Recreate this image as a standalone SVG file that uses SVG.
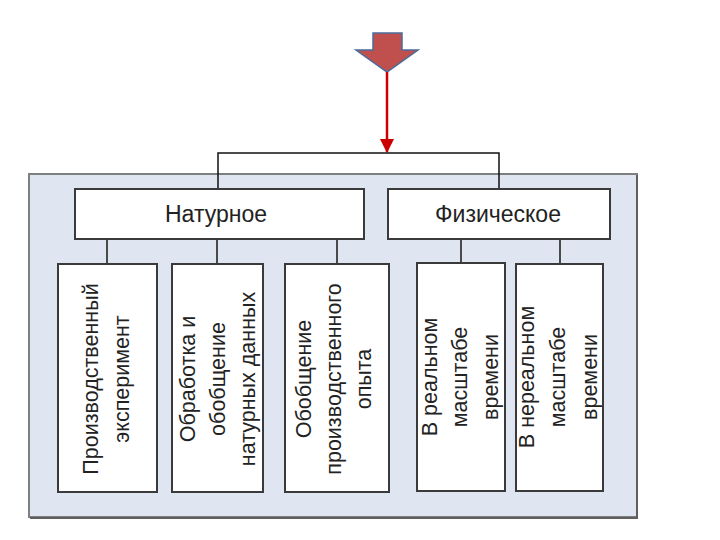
<svg xmlns="http://www.w3.org/2000/svg" width="720" height="540" viewBox="0 0 720 540">
<style>
.box{fill:#ffffff;stroke:#3a3a3a;stroke-width:2}
.hl{font-family:"Liberation Sans",Arial,sans-serif;font-size:23px;fill:#222;text-anchor:middle}
.vl{font-family:"Liberation Sans",Arial,sans-serif;font-size:21.5px;fill:#222;text-anchor:middle}
.conn{stroke:#111;stroke-width:1.5;fill:none}
.conn2{stroke:#4a4a4a;stroke-width:2;fill:none}
</style>
<defs>
<marker id="redhead" markerWidth="14" markerHeight="14" refX="13" refY="7" orient="auto" markerUnits="userSpaceOnUse" viewBox="0 0 14 14">
<path d="M0,0 L14,7 L0,14 Z" fill="#cc0000"/>
</marker>
</defs>
<rect width="720" height="540" fill="#ffffff"/>
<g id="panel">
<rect x="29" y="174" width="608" height="343" fill="#dfe6f1" stroke="#7f7f7f" stroke-width="2"/>
<path d="M637,175 L637,518 L30,518" fill="none" stroke="#5f5f5f" stroke-width="2"/>
</g>
<g id="block-arrow">
<path d="M373,33 L402,33 L402,50 L418,50 L387,72 L356,50 L373,50 Z" fill="#c0504d" stroke="#4a6b9a" stroke-width="1.5"/>
</g>
<g id="connectors">
<line x1="387" y1="72" x2="387" y2="152" stroke="#cc0000" stroke-width="2.5" marker-end="url(#redhead)"/>
<path class="conn" d="M218,189 L218,153 L499,153 L499,189"/>
<line class="conn2" x1="107" y1="239" x2="107" y2="264"/>
<line class="conn2" x1="217" y1="239" x2="217" y2="264"/>
<line class="conn2" x1="337" y1="239" x2="337" y2="264"/>
<line class="conn2" x1="461" y1="239" x2="461" y2="263"/>
<line class="conn2" x1="560" y1="239" x2="560" y2="264"/>
</g>
<g id="natural">
<rect class="box" x="75" y="189" width="289" height="50"/>
<text class="hl" x="216" y="222">Натурное</text>
</g>
<g id="physical">
<rect class="box" x="388" y="189" width="222" height="50"/>
<text class="hl" x="498" y="222">Физическое</text>
</g>
<g id="n1">
<rect class="box" x="58" y="264" width="99" height="228"/>
<text class="vl" transform="translate(98,379) rotate(-90)">Производственный</text>
<text class="vl" transform="translate(129,379) rotate(-90)">эксперимент</text>
</g>
<g id="n2">
<rect class="box" x="172" y="264" width="91" height="228"/>
<text class="vl" transform="translate(195,379) rotate(-90)">Обработка и</text>
<text class="vl" transform="translate(225,379) rotate(-90)">обобщение</text>
<text class="vl" transform="translate(255,379) rotate(-90)">натурных данных</text>
</g>
<g id="n3">
<rect class="box" x="285" y="264" width="104" height="228"/>
<text class="vl" transform="translate(311,379) rotate(-90)">Обобщение</text>
<text class="vl" transform="translate(341,379) rotate(-90)">производственного</text>
<text class="vl" transform="translate(371,379) rotate(-90)">опыта</text>
</g>
<g id="p1">
<rect class="box" x="417" y="263" width="88" height="228"/>
<text class="vl" transform="translate(437,377) rotate(-90)">В реальном</text>
<text class="vl" transform="translate(467,377) rotate(-90)">масштабе</text>
<text class="vl" transform="translate(498,377) rotate(-90)">времени</text>
</g>
<g id="p2">
<rect class="box" x="516" y="264" width="87" height="227"/>
<text class="vl" transform="translate(534,377) rotate(-90)">В нереальном</text>
<text class="vl" transform="translate(565,377) rotate(-90)">масштабе</text>
<text class="vl" transform="translate(597,377) rotate(-90)">времени</text>
</g>
</svg>
